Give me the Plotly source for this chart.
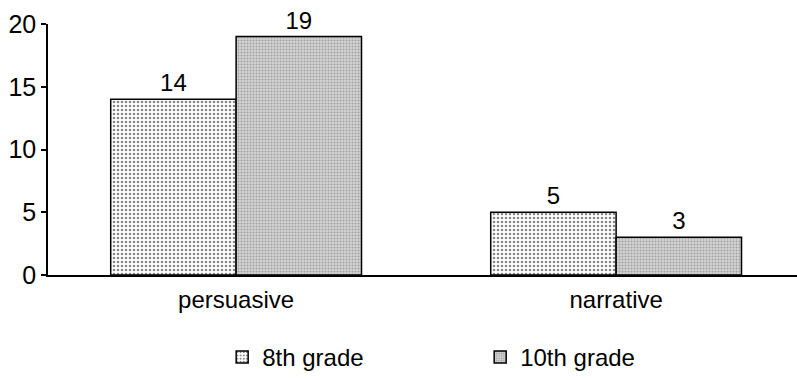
import plotly.graph_objects as go

categories = ["persuasive", "narrative"]
grade8 = [14, 5]
grade10 = [19, 3]
series_names = ["8th grade", "10th grade"]
y_ticks = [0, 5, 10, 15, 20]

FONT = "Liberation Sans, Arial, sans-serif"

fig = go.Figure()
fig.add_trace(go.Bar(
    x=categories, y=grade8, name=series_names[0],
    text=[str(v) for v in grade8], textposition="outside",
    textfont=dict(size=24, color="black", family=FONT),
    marker=dict(color="white", line=dict(color="black", width=1.5),
                pattern=dict(shape=".", fgcolor="#111111", bgcolor="white",
                             size=4, solidity=0.35, fillmode="overlay")),
    cliponaxis=False,
))
fig.add_trace(go.Bar(
    x=categories, y=grade10, name=series_names[1],
    text=[str(v) for v in grade10], textposition="outside",
    textfont=dict(size=24, color="black", family=FONT),
    marker=dict(color="#c4c4c4", line=dict(color="black", width=1.5),
                pattern=dict(shape=".", fgcolor="#707070", bgcolor="#d2d2d2",
                             size=3, solidity=0.35, fillmode="overlay")),
    cliponaxis=False,
))

fig.update_layout(
    width=797, height=380, autosize=False,
    margin=dict(l=48, r=0, t=24, b=103),
    paper_bgcolor="white", plot_bgcolor="white",
    barmode="group", bargap=0.34, bargroupgap=0,
    font=dict(family=FONT, size=24, color="black"),
    showlegend=True,
    legend=dict(orientation="h", x=0.577, xanchor="center", y=-0.33, yanchor="middle",
                font=dict(size=24, family=FONT), entrywidth=213,
                itemwidth=30, traceorder="normal"),
)
fig.update_xaxes(range=[-0.495, 1.476], showline=True, linecolor="black", linewidth=2,
                 ticks="", showgrid=False, zeroline=False, ticklabelstandoff=2,
                 tickfont=dict(size=24, family=FONT))
fig.update_yaxes(range=[0, 20], tickvals=y_ticks, showline=True, linecolor="black", linewidth=1.5,
                 ticks="outside", ticklen=5, tickwidth=1.5, tickcolor="black",
                 showgrid=False, zeroline=False,
                 tickfont=dict(size=25, family=FONT))

fig.write_html("out.html")
